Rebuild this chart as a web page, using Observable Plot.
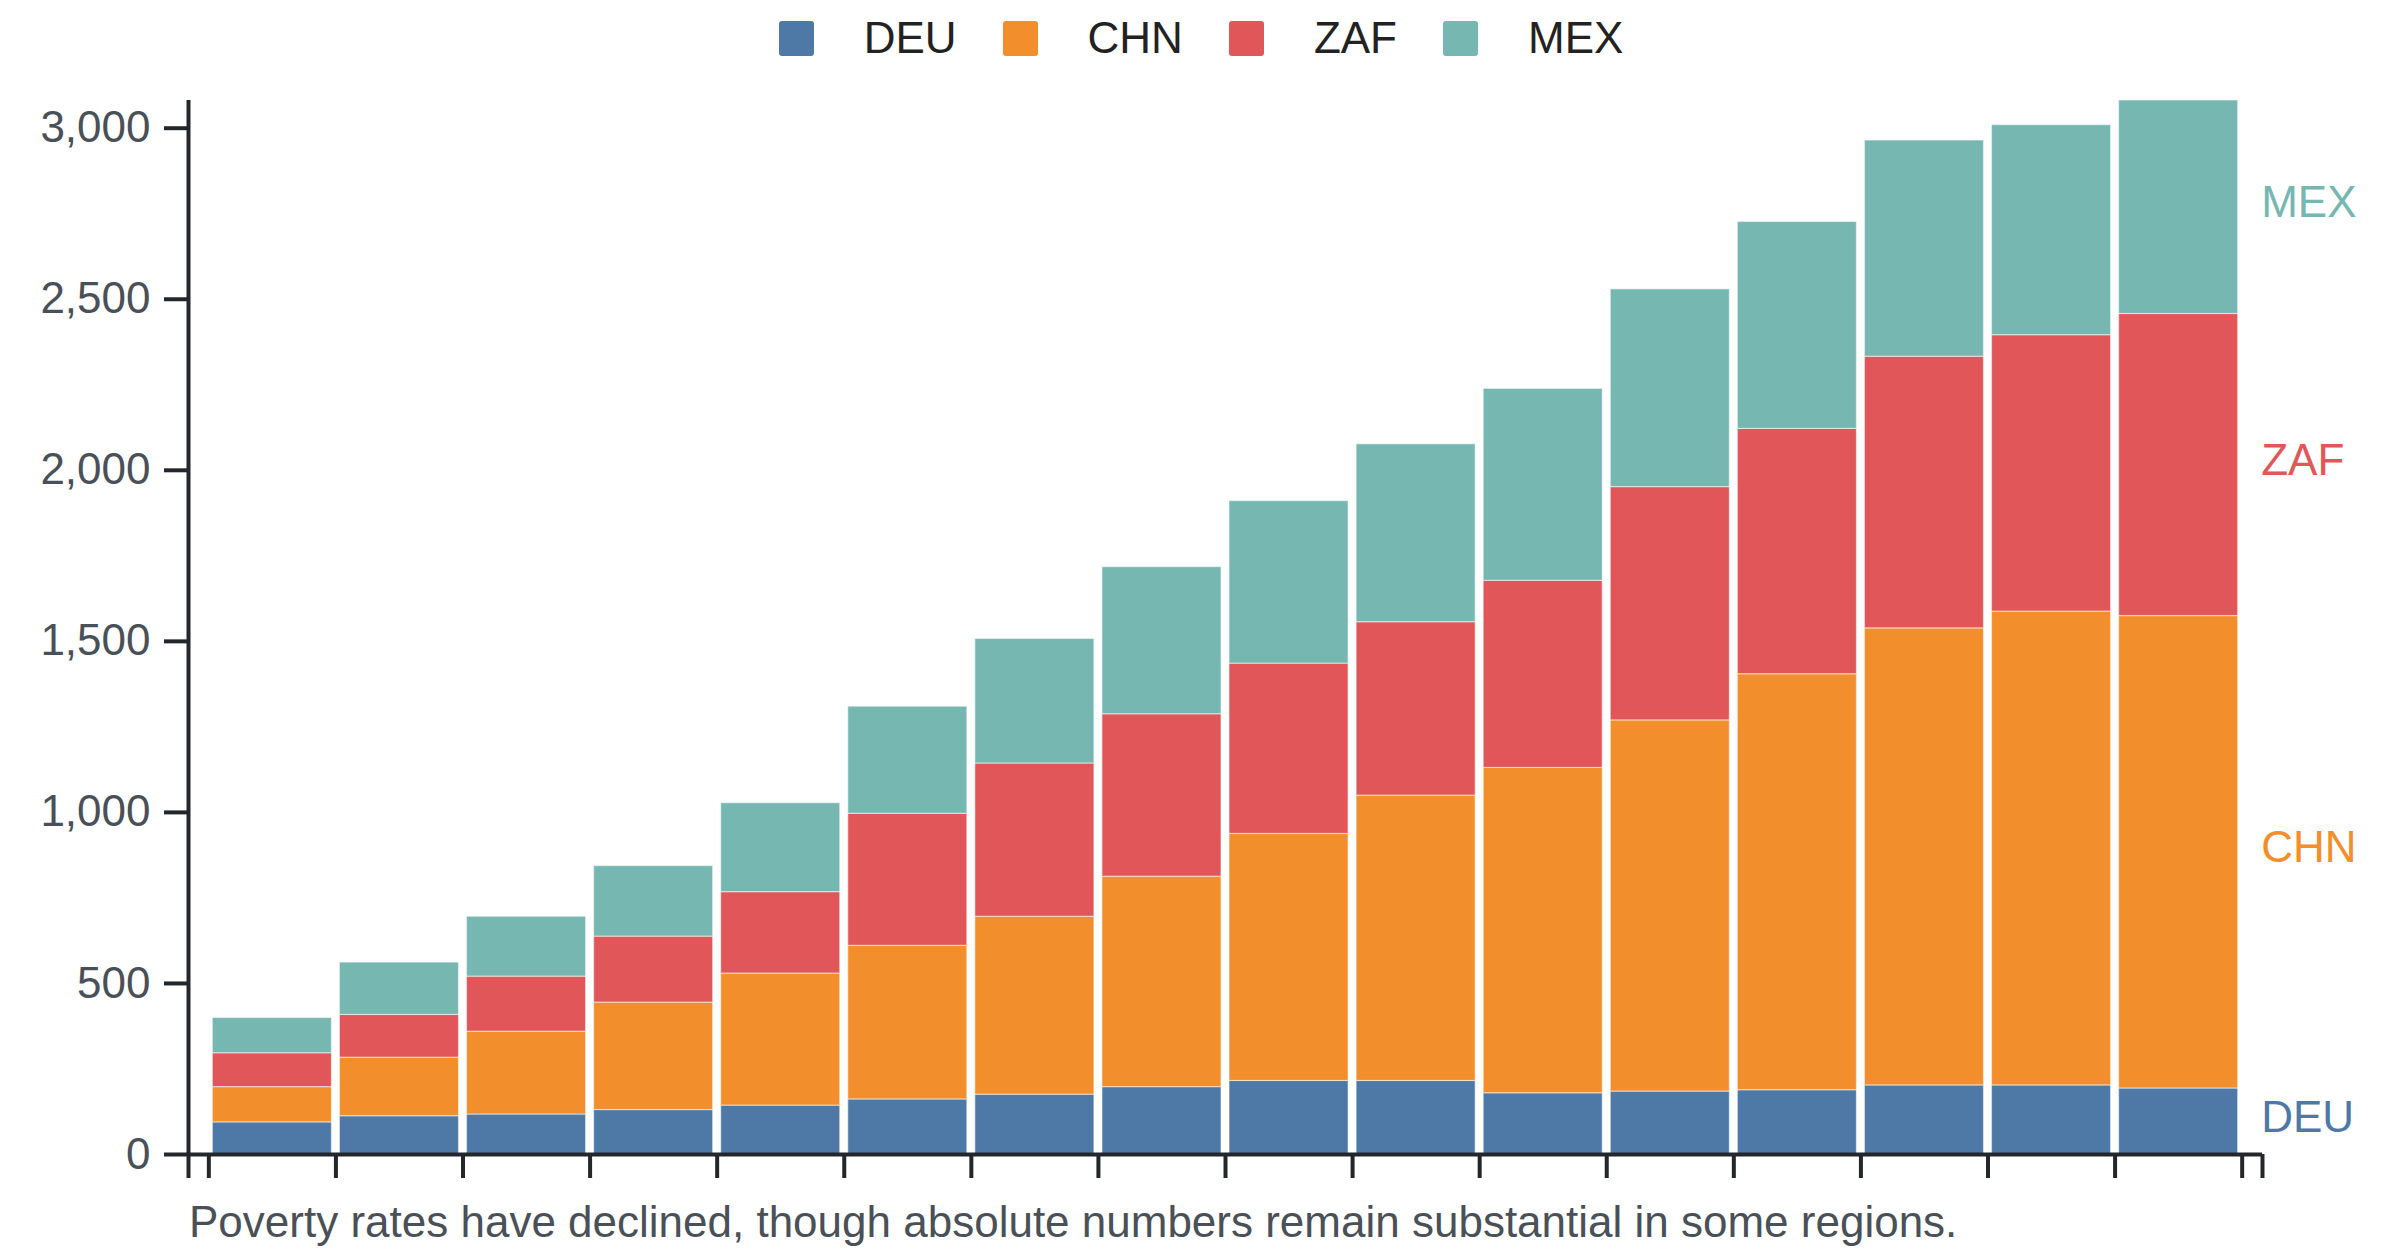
<!DOCTYPE html>
<html>
<head>
<meta charset="utf-8">
<script src="https://cdn.jsdelivr.net/npm/d3@7"></script>
<script src="https://cdn.jsdelivr.net/npm/@observablehq/plot@0.6"></script>
<style>
  html, body { margin: 0; padding: 0; background: #fff; overflow: hidden; }
  body { width: 2400px; height: 1256px; font-family: "Liberation Sans", Arial, Helvetica, sans-serif; }
  #legend { height: 76px; display: flex; align-items: center; justify-content: center; padding-left: 2px; box-sizing: border-box; }
  .item { display: flex; align-items: center; margin: 0 23px; }
  .sw { width: 35px; height: 35px; border-radius: 3px; margin-right: 50px; }
  .lab { font-size: 44px; color: #222; line-height: 1; }
  #caption { font-size: 44px; line-height: 50px; color: #4a5058; padding-left: 189px; margin-top: -5px; }
  svg { display: block; }
</style>
</head>
<body>
<div id="legend"></div>
<div id="chart"></div>
<div id="caption">Poverty rates have declined, though absolute numbers remain substantial in some regions.</div>
<script>
const years = [2000, 2001, 2002, 2003, 2004, 2005, 2006, 2007, 2008, 2009, 2010, 2011, 2012, 2013, 2014, 2015];
const countries = ["DEU", "CHN", "ZAF", "MEX"];
const colors = ["#4e79a7", "#f28e2b", "#e15759", "#76b7b2"];
const DEU = [94, 112, 117, 130, 143, 161, 175, 197, 215, 215, 179, 184, 188, 202, 202, 193];
const CHN = [103, 171, 242, 314, 386, 449, 520, 615, 722, 834, 951, 1085, 1216, 1336, 1385, 1381];
const ZAF = [99, 125, 161, 193, 238, 386, 448, 475, 498, 507, 547, 682, 717, 794, 808, 883];
const MEX = [103, 153, 175, 206, 260, 313, 364, 430, 475, 520, 561, 578, 605, 632, 614, 624];
const yTicks = [0, 500, 1000, 1500, 2000, 2500, 3000];

const series = {DEU, CHN, ZAF, MEX};
const data = [];
years.forEach((year, i) => {
  countries.forEach(c => data.push({year, country: c, value: series[c][i]}));
});
const lastYear = years[years.length - 1];
const lastData = data.filter(d => d.year === lastYear);
const totals = years.map((y, i) => countries.reduce((s, c) => s + series[c][i], 0));
const pad = 0.16;
const xDomain = [years[0] - pad, lastYear + 1 + pad];
const xTicks = [xDomain[0], ...years, lastYear + 1, xDomain[1]];

const axisColor = "#23272c";
const textColor = "#4a5058";

const chart = Plot.plot({
  width: 2400,
  height: 1126,
  marginTop: 24,
  marginBottom: 48,
  marginLeft: 188,
  marginRight: 138,
  style: {fontFamily: "'Liberation Sans', Arial, Helvetica, sans-serif", fontSize: "44px", background: "#fff"},
  x: {type: "linear", domain: xDomain, axis: null},
  y: {domain: [0, d3.max(totals)], axis: null},
  color: {domain: countries, range: colors},
  marks: [
    Plot.rectY(data, {
      x1: d => d.year,
      x2: d => d.year + 1,
      y: "value",
      z: "country",
      fill: "country",
      insetLeft: 4,
      insetRight: 4,
      stroke: "#ffffff",
      strokeWidth: 1.2,
      strokeOpacity: 0.5
    }),
    Plot.axisY({ticks: yTicks, tickSize: 24, tickPadding: 14, tickFormat: d3.format(","), fontSize: 44, stroke: axisColor, fill: textColor, strokeWidth: 4, label: null}),
    Plot.axisX({ticks: xTicks, tickSize: 24, fill: "none", stroke: axisColor, strokeWidth: 4, label: null, tickFormat: () => ""}),
    Plot.ruleY([0], {stroke: axisColor, strokeWidth: 4}),
    Plot.ruleX([xDomain[0]], {stroke: axisColor, strokeWidth: 4}),
    Plot.text(lastData, Plot.stackY({
      x: d => d.year + 1,
      y: "value",
      z: "country",
      text: "country",
      fill: "country",
      textAnchor: "start",
      dx: 19,
      dy: -4,
      fontSize: 44
    }))
  ]
});
document.getElementById("chart").appendChild(chart);

const color = chart.scale("color");
const legend = document.getElementById("legend");
color.domain.forEach((c, i) => {
  const item = document.createElement("div");
  item.className = "item";
  const sw = document.createElement("div");
  sw.className = "sw";
  sw.style.background = color.range[i];
  const lab = document.createElement("span");
  lab.className = "lab";
  lab.textContent = c;
  item.appendChild(sw);
  item.appendChild(lab);
  legend.appendChild(item);
});
</script>
</body>
</html>
